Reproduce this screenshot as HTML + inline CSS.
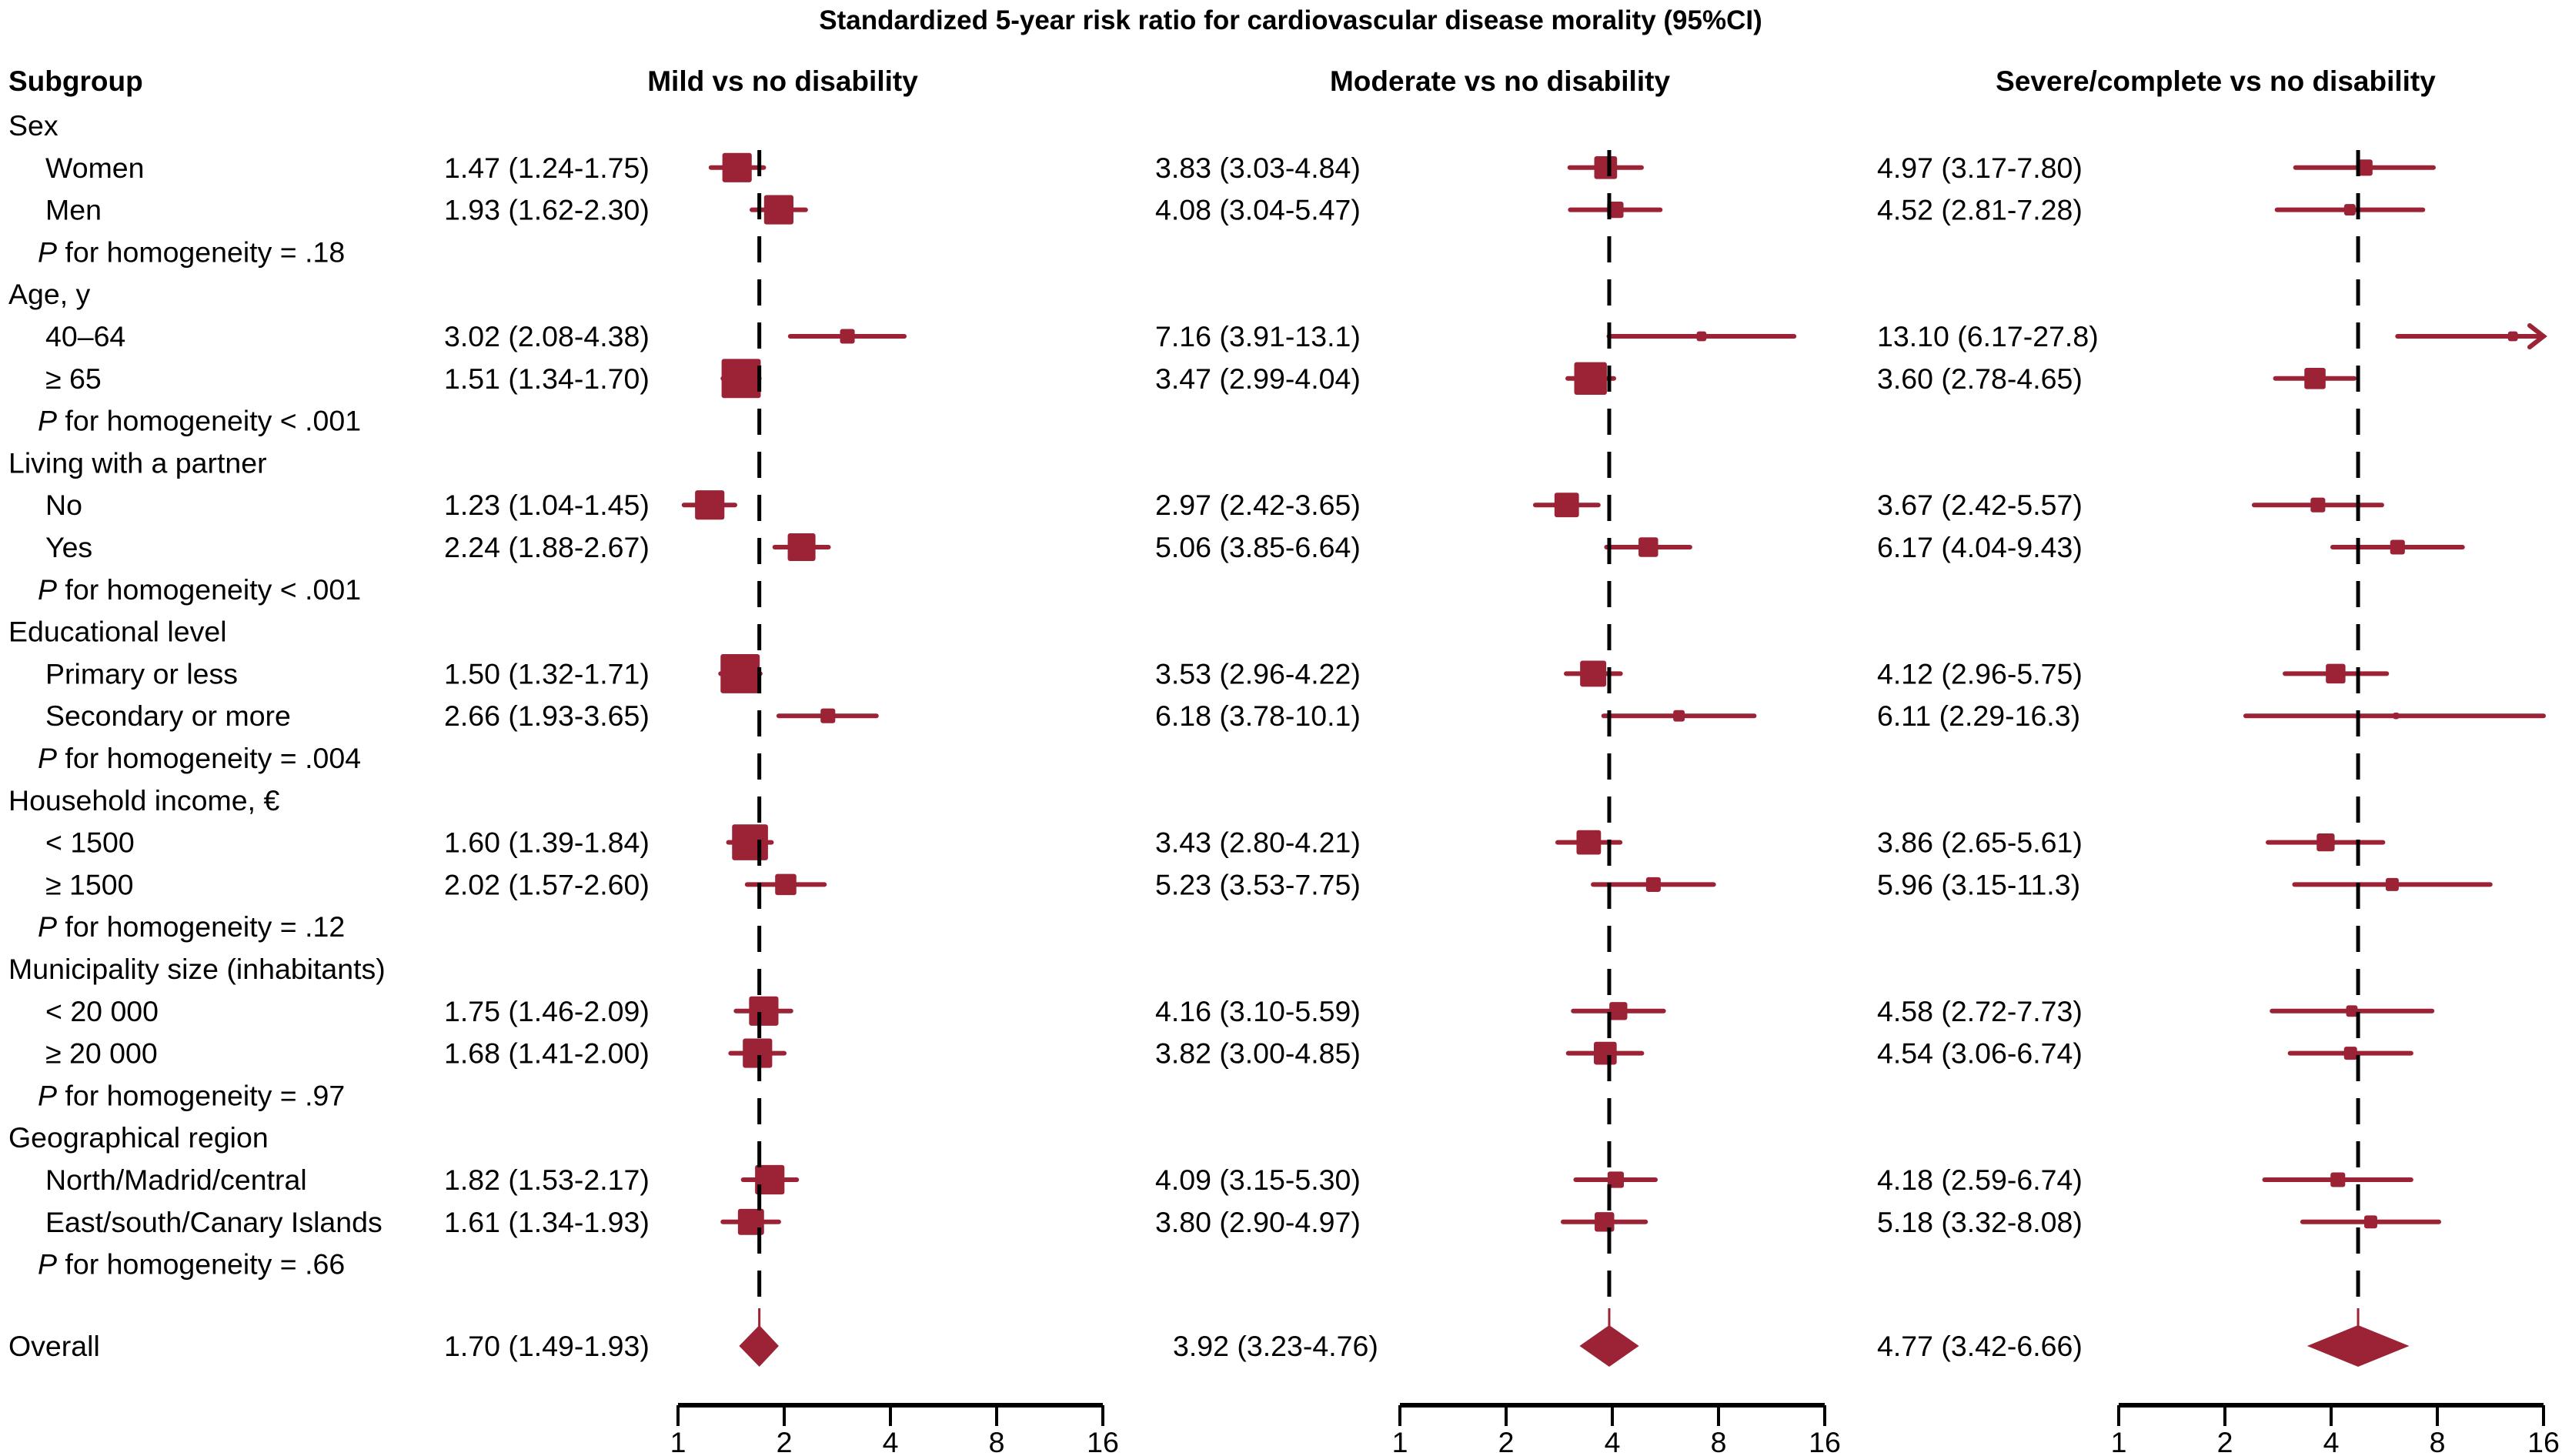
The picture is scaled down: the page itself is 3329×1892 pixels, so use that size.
<!DOCTYPE html>
<html><head><meta charset="utf-8">
<style>
html,body{margin:0;padding:0;background:#fff;}
svg{display:block;font-family:"Liberation Sans",Arial,sans-serif;}
</style></head>
<body>
<svg id="chart" width="3329" height="1892" viewBox="0 0 3329 1892" xmlns="http://www.w3.org/2000/svg">
<text x="1677" y="38" text-anchor="middle" font-size="35" font-weight="bold">Standardized 5-year risk ratio for cardiovascular disease morality (95%CI)</text>
<text x="11" y="118" font-size="37" font-weight="bold">Subgroup</text>
<text x="1017" y="118" text-anchor="middle" font-size="37" font-weight="bold">Mild vs no disability</text>
<text x="1949" y="118" text-anchor="middle" font-size="37" font-weight="bold">Moderate vs no disability</text>
<text x="2879" y="118" text-anchor="middle" font-size="37" font-weight="bold">Severe/complete vs no disability</text>
<g id="rows"></g>
<g id="plots"></g>
</svg>
<script>
const categories = ["Women","Men","40–64","≥ 65","No","Yes","Primary or less","Secondary or more","< 1500","≥ 1500","< 20 000","≥ 20 000","North/Madrid/central","East/south/Canary Islands"];
const groupTitles = ["Sex","Age, y","Living with a partner","Educational level","Household income, €","Municipality size (inhabitants)","Geographical region"];
const pValues = ["= .18","< .001","< .001","= .004","= .12","= .97","= .66"];
const mildEst = [1.47,1.93,3.02,1.51,1.23,2.24,1.50,2.66,1.60,2.02,1.75,1.68,1.82,1.61];
const mildLo  = [1.24,1.62,2.08,1.34,1.04,1.88,1.32,1.93,1.39,1.57,1.46,1.41,1.53,1.34];
const mildHi  = [1.75,2.30,4.38,1.70,1.45,2.67,1.71,3.65,1.84,2.60,2.09,2.00,2.17,1.93];
const modEst = [3.83,4.08,7.16,3.47,2.97,5.06,3.53,6.18,3.43,5.23,4.16,3.82,4.09,3.80];
const modLo  = [3.03,3.04,3.91,2.99,2.42,3.85,2.96,3.78,2.80,3.53,3.10,3.00,3.15,2.90];
const modHi  = [4.84,5.47,13.1,4.04,3.65,6.64,4.22,10.1,4.21,7.75,5.59,4.85,5.30,4.97];
const sevEst = [4.97,4.52,13.10,3.60,3.67,6.17,4.12,6.11,3.86,5.96,4.58,4.54,4.18,5.18];
const sevLo  = [3.17,2.81,6.17,2.78,2.42,4.04,2.96,2.29,2.65,3.15,2.72,3.06,2.59,3.32];
const sevHi  = [7.80,7.28,27.8,4.65,5.57,9.43,5.75,16.3,5.61,11.3,7.73,6.74,6.74,8.08];
const mildWeight = [18,18,9,24,18,17,24,9,22,13,18,18,18,16];
const modWeight  = [14,10,6,20,15,12,16,7,15,9,11,14,10,12];
const sevWeight  = [10,7,6,13,9,9,12,4,11,8,7,8,9,8];
const overallEst = [1.70,3.92,4.77];
const overallLo  = [1.49,3.23,3.42];
const overallHi  = [1.93,4.76,6.66];
const tickValues = [1,2,4,8,16];
const tickLabels = ["1","2","4","8","16"];

const NS="http://www.w3.org/2000/svg";
const RED="#9b2335";
const FS=37.5;
function mk(tag,attrs,parent,txt){const e=document.createElementNS(NS,tag);for(const k in attrs)e.setAttribute(k,attrs[k]);if(txt!==undefined)e.textContent=txt;parent.appendChild(e);return e;}
const rowY = i => 163 + i*54.8;
const OVERALL_Y = 1749;
const fmt = (e,l,h) => e.toFixed(2)+" ("+l.toFixed(2)+"-"+(h>=10?h.toFixed(1):h.toFixed(2))+")";

const rows=document.getElementById('rows');
const dataRowIdx=[];
for(let g=0;g<7;g++){
  const base=g*4;
  let t=mk('text',{x:11,y:rowY(base)+13,'font-size':FS},rows,groupTitles[g]);
  
  
  for(let k=0;k<2;k++){
    const ci=g*2+k;dataRowIdx.push(base+1+k);
    let c=mk('text',{x:59,y:rowY(base+1+k)+13,'font-size':FS},rows,categories[ci]);
    
    
  }
  let p=mk('text',{x:49,y:rowY(base+3)+13,'font-size':FS},rows);
  
  
  mk('tspan',{'font-style':'italic'},p,'P');
  mk('tspan',{},p,' for homogeneity '+pValues[g]);
}
let ov=mk('text',{x:11,y:OVERALL_Y+13,'font-size':FS},rows,'Overall');



const panels=[
 {x0:881,tx:577,otx:577,est:mildEst,lo:mildLo,hi:mildHi,w:mildWeight,name:'mild'},
 {x0:1819,tx:1501,otx:1524,est:modEst,lo:modLo,hi:modHi,w:modWeight,name:'moderate'},
 {x0:2753,tx:2439,otx:2439,est:sevEst,lo:sevLo,hi:sevHi,w:sevWeight,name:'severe'}
];
const SPAN=138;
const plots=document.getElementById('plots');
panels.forEach((P,pi)=>{
  const g=mk('g',{},plots);
  
  
  const xs=v=>P.x0+Math.log2(v)*SPAN;
  const xmax=xs(16);
  for(let i=0;i<categories.length;i++){
    const y=rowY(dataRowIdx[i]);
    let tv=mk('text',{x:P.tx,y:y+13,'font-size':FS},g,fmt(P.est[i],P.lo[i],P.hi[i]));
    
    
    const x1=xs(P.lo[i]);let x2=Math.min(xs(P.hi[i]),xmax);const arrow=P.hi[i]>20;
    let ln=mk('line',{x1:x1,x2:x2,y1:y,y2:y,stroke:RED,'stroke-width':6,'stroke-linecap':'round'},g);
    
    
    if(arrow){
      let ar=mk('polyline',{points:(x2-18)+','+(y-14)+' '+x2+','+y+' '+(x2-18)+','+(y+14),fill:'none',stroke:RED,'stroke-width':6,'stroke-linecap':'round'},g);
      
      
    }
    const s=P.w[i]*2.12;
    let b=mk('rect',{x:xs(P.est[i])-s/2,y:y-s/2,width:s,height:s,rx:3,fill:RED},g);
    
    
  }
  let ot=mk('text',{x:P.otx,y:OVERALL_Y+13,'font-size':FS},g,fmt(overallEst[pi],overallLo[pi],overallHi[pi]));
  
  
  const xe=xs(overallEst[pi]);
  let dl=mk('line',{x1:xe,x2:xe,y1:195,y2:1700,stroke:'#000','stroke-width':5,'stroke-dasharray':'34 22'},g);
  
  
  let rl=mk('line',{x1:xe,x2:xe,y1:1700,y2:1725,stroke:RED,'stroke-width':3},g);
  
  
  const dh=27;
  let dm=mk('polygon',{points:xs(overallLo[pi])+','+OVERALL_Y+' '+xe+','+(OVERALL_Y-dh)+' '+xs(overallHi[pi])+','+OVERALL_Y+' '+xe+','+(OVERALL_Y+dh),fill:RED},g);
  
  
  const ay=1826;
  let ax=mk('line',{x1:P.x0,x2:xmax,y1:ay,y2:ay,stroke:'#000','stroke-width':6},g);
  
  
  tickValues.forEach((tvv,k)=>{
    const tx=xs(tvv);
    let tk=mk('line',{x1:tx,x2:tx,y1:ay,y2:ay+27,stroke:'#000','stroke-width':4},g);
    
    
    let tl=mk('text',{x:tx,y:1887,'font-size':FS,'text-anchor':'middle'},g,tickLabels[k]);
    
    
  });
});
</script>
</body></html>
